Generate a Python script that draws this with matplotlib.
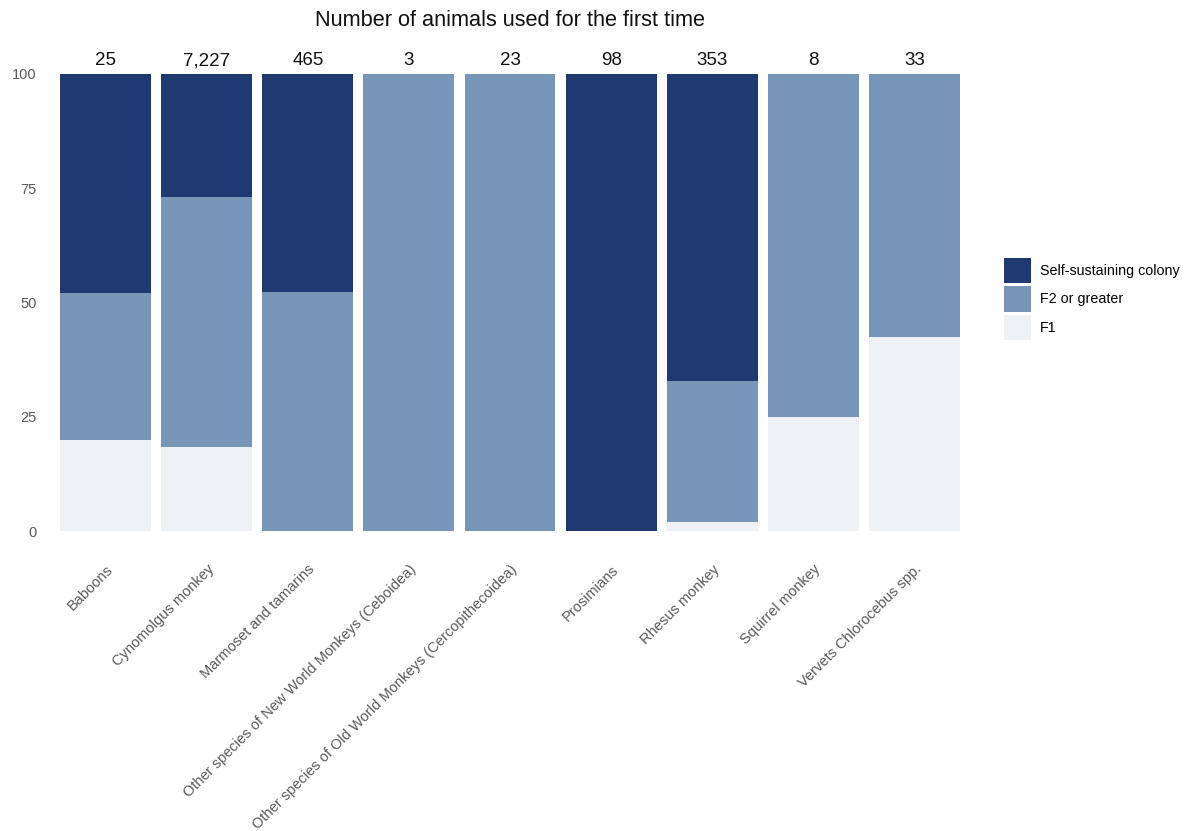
import matplotlib
matplotlib.use("Agg")
import matplotlib.pyplot as plt
import numpy as np
from matplotlib.patches import Patch

plt.rcParams['font.family'] = ['Liberation Sans', 'DejaVu Sans']

categories = ["Baboons", "Cynomolgus monkey", "Marmoset and tamarins",
              "Other species of New World Monkeys (Ceboidea)",
              "Other species of Old World Monkeys (Cercopithecoidea)",
              "Prosimians", "Rhesus monkey", "Squirrel monkey",
              "Vervets Chlorocebus spp."]
counts = ["25", "7,227", "465", "3", "23", "98", "353", "8", "33"]
f1 = [20.0, 18.4, 0.0, 0.0, 0.0, 0.0, 2.0, 25.0, 42.4]
f2 = [32.0, 54.7, 52.3, 100.0, 100.0, 0.0, 30.8, 75.0, 57.6]
self_sust = [48.0, 26.9, 47.7, 0.0, 0.0, 100.0, 67.2, 0.0, 0.0]
series_names = ["Self-sustaining colony", "F2 or greater", "F1"]
colors = ["#1f3a70", "#7896b8", "#eef1f6"]

W, H = 1184, 831
fig = plt.figure(figsize=(W / 100, H / 100), dpi=100)
ax = fig.add_axes([45 / W, 1 - 554 / H, (975 - 45) / W, (554 - 51) / H])

x = np.arange(len(categories))
w = 0.9
f1a = np.array(f1); f2a = np.array(f2); sa = np.array(self_sust)
ax.bar(x, f1a, width=w, color=colors[2], linewidth=0)
ax.bar(x, f2a, width=w, bottom=f1a, color=colors[1], linewidth=0)
ax.bar(x, sa, width=w, bottom=f1a + f2a, color=colors[0], linewidth=0)

for xi, c in zip(x, counts):
    ax.text(xi, 102.9, c, ha='center', va='center', fontsize=13.5, color='#111111')

ax.set_xlim(-0.6, len(categories) - 0.4)
ax.set_ylim(-5, 105)
ax.set_yticks([0, 25, 50, 75, 100])
ax.set_yticklabels(["0", "25", "50", "75", "100"], fontsize=10.5, color='#5a5a5a')
ax.set_xticks(x)
ax.set_xticklabels(categories, rotation=45, ha='right', va='top',
                   rotation_mode='anchor', fontsize=10.5, color='#5a5a5a')
ax.tick_params(axis='y', length=0, pad=5.8)
ax.tick_params(axis='x', length=0, pad=6)
for s in ax.spines.values():
    s.set_visible(False)
ax.grid(False)

fig.text(510 / W, 1 - 21 / H, "Number of animals used for the first time",
         ha='center', va='center', fontsize=15.7, color='#111111')

handles = [Patch(facecolor=c, edgecolor='none') for c in colors]
fig.legend(handles, series_names, loc='center left',
           bbox_to_anchor=(1004 / W, 1 - 299 / H), frameon=False,
           fontsize=10.3, handlelength=1.9, handleheight=2.37,
           handletextpad=0.6, labelspacing=0.22, borderpad=0, borderaxespad=0)

fig.savefig("out.png", dpi=100, facecolor='white')
